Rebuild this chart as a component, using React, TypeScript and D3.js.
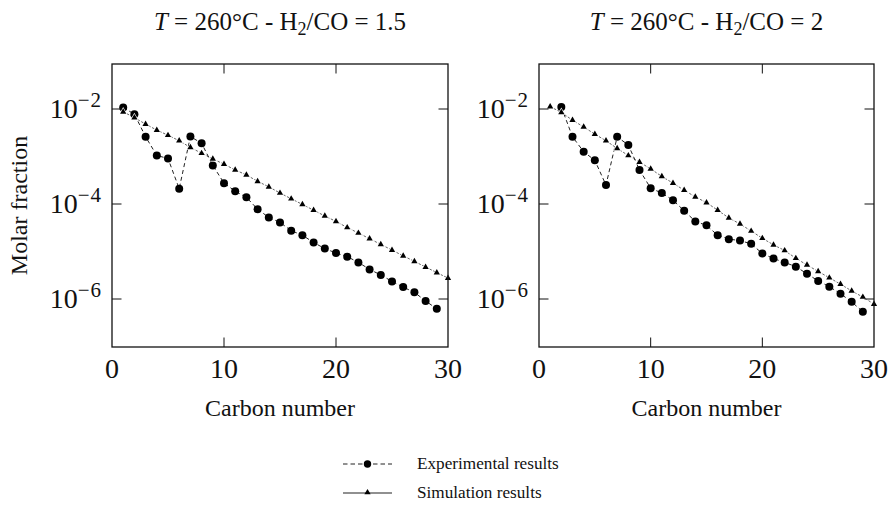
import React from "react";
import * as d3 from "d3";

// ---- data ----
const carbonExpLeft = d3.range(1, 30);
const expLeft = [
  1.07e-2, 7.8e-3, 2.6e-3, 1.05e-3, 9.1e-4, 2.1e-4, 2.63e-3, 1.9e-3, 6.5e-4, 2.75e-4,
  1.86e-4, 1.38e-4, 7.8e-5, 5.2e-5, 4.1e-5, 2.75e-5, 2.2e-5, 1.55e-5, 1.15e-5, 9.3e-6,
  7.8e-6, 5.9e-6, 4.2e-6, 3.2e-6, 2.35e-6, 1.78e-6, 1.38e-6, 9.1e-7, 6.2e-7,
];
const carbonSimLeft = d3.range(1, 31);
const simLeft = [
  8.7e-3, 6.6e-3, 4.8e-3, 3.6e-3, 2.8e-3, 2.15e-3, 1.55e-3, 1.17e-3, 8.9e-4, 6.9e-4,
  5.2e-4, 4.1e-4, 3.0e-4, 2.3e-4, 1.7e-4, 1.29e-4, 9.8e-5, 7.4e-5, 5.6e-5, 4.3e-5,
  3.2e-5, 2.45e-5, 1.86e-5, 1.41e-5, 1.07e-5, 8.1e-6, 6.2e-6, 4.7e-6, 3.6e-6, 2.75e-6,
];
const carbonExpRight = d3.range(2, 30);
const expRight = [
  1.1e-2, 2.6e-3, 1.26e-3, 8.3e-4, 2.5e-4, 2.6e-3, 1.74e-3, 5.2e-4, 2.15e-4, 1.7e-4,
  1.2e-4, 7.2e-5, 4.3e-5, 3.55e-5, 2.2e-5, 1.82e-5, 1.7e-5, 1.45e-5, 9.1e-6, 7.1e-6,
  5.9e-6, 4.8e-6, 3.4e-6, 2.4e-6, 1.82e-6, 1.29e-6, 8.7e-7, 5.4e-7,
];
const carbonSimRight = d3.range(1, 31);
const simRight = [
  1.12e-2, 8.5e-3, 5.8e-3, 4.2e-3, 2.95e-3, 2.15e-3, 1.48e-3, 1.05e-3, 7.6e-4, 5.5e-4,
  3.8e-4, 2.75e-4, 1.95e-4, 1.41e-4, 1.07e-4, 7.4e-5, 5.1e-5, 3.8e-5, 2.7e-5, 1.9e-5,
  1.38e-5, 1.05e-5, 7.2e-6, 5.2e-6, 3.8e-6, 2.8e-6, 2.05e-6, 1.48e-6, 1.1e-6, 7.8e-7,
];
const xTicks = [0, 10, 20, 30];
const yTickExponents = [-2, -4, -6];
const titleRatios = ["1.5", "2"];
const legendLabels = ["Experimental results", "Simulation results"];
const xLabel = "Carbon number";
const yLabel = "Molar fraction";

const FONT = "'Liberation Serif', 'Times New Roman', serif";
const INK = "#111";

type PanelProps = {
  left: number;
  right: number;
  ratio: string;
  showYLabel: boolean;
  cExp: number[];
  vExp: number[];
  cSim: number[];
  vSim: number[];
};

function Panel({ left, right, ratio, showYLabel, cExp, vExp, cSim, vSim }: PanelProps) {
  const top = 64;
  const bottom = 347;
  const x = d3.scaleLinear().domain([0, 30]).range([left, right]);
  const y = d3
    .scaleLog()
    .domain([Math.pow(10, -7.0105), Math.pow(10, -1.0526)])
    .range([bottom, top]);
  const expPts = cExp.map((c, i) => [x(c), y(vExp[i])] as [number, number]);
  const simPts = cSim.map((c, i) => [x(c), y(vSim[i])] as [number, number]);
  const line = d3.line();
  const tri = d3.symbol(d3.symbolTriangle, 17)();
  const tickLen = 9.5;
  const cx = (left + right) / 2;
  return (
    <g>
      {/* title */}
      <text x={cx} y={30} textAnchor="middle" fontFamily={FONT} fontSize={25} fill={INK}>
        <tspan fontStyle="italic">T</tspan>
        <tspan>{" = 260°C - H"}</tspan>
        <tspan fontSize={18} dy={5}>2</tspan>
        <tspan dy={-5}>{"/CO = " + ratio}</tspan>
      </text>
      {/* series */}
      <path d={line(simPts) || ""} fill="none" stroke="#555" strokeWidth={0.9} strokeDasharray="2.5 1.6" />
      <path d={line(expPts) || ""} fill="none" stroke="#222" strokeWidth={1} strokeDasharray="4 3" />
      {expPts.map((p, i) => (
        <circle key={"e" + i} cx={p[0]} cy={p[1]} r={4} fill="#000" />
      ))}
      {simPts.map((p, i) => (
        <path
          key={"s" + i}
          d={tri || ""}
          transform={`translate(${p[0]},${p[1]})`}
          fill="#000"
          stroke="#fff"
          strokeWidth={1.2}
          paintOrder="stroke"
        />
      ))}
      {/* frame */}
      <rect x={left} y={top} width={right - left} height={bottom - top} fill="none" stroke="#111" strokeWidth={1.3} />
      {/* x ticks */}
      {xTicks.map((t) => (
        <g key={"xt" + t}>
          {t > 0 && t < 30 && (
            <>
              <line x1={x(t)} x2={x(t)} y1={bottom} y2={bottom - tickLen} stroke="#111" strokeWidth={1} />
              <line x1={x(t)} x2={x(t)} y1={top} y2={top + tickLen} stroke="#111" strokeWidth={1} />
            </>
          )}
          <text x={x(t)} y={378} textAnchor="middle" fontFamily={FONT} fontSize={28} fill={INK}>
            {t}
          </text>
        </g>
      ))}
      {/* y ticks */}
      {yTickExponents.map((e) => (
        <g key={"yt" + e}>
          <line x1={left} x2={left + tickLen} y1={y(Math.pow(10, e))} y2={y(Math.pow(10, e))} stroke="#111" strokeWidth={1} />
          <line x1={right} x2={right - tickLen} y1={y(Math.pow(10, e))} y2={y(Math.pow(10, e))} stroke="#111" strokeWidth={1} />
          <text x={left - 11} y={y(Math.pow(10, e)) + 9} textAnchor="end" fontFamily={FONT} fontSize={28} fill={INK}>
            <tspan>10</tspan>
            <tspan fontSize={21} dy={-11}>{"\u2212"}</tspan>
            <tspan fontSize={21} dx={1}>{String(Math.abs(e))}</tspan>
          </text>
        </g>
      ))}
      {/* axis labels */}
      <text x={cx} y={416} textAnchor="middle" fontFamily={FONT} fontSize={24} fill={INK}>
        {xLabel}
      </text>
      {showYLabel && (
        <text
          transform={`translate(27,${(top + bottom) / 2})`}
          textAnchor="middle"
          fontFamily={FONT}
          fontSize={24}
          fill={INK}
        >
          <tspan transform="rotate(-90)"></tspan>
        </text>
      )}
      {showYLabel && (
        <text
          transform={`translate(27,${(top + bottom) / 2}) rotate(-90)`}
          textAnchor="middle"
          fontFamily={FONT}
          fontSize={24}
          fill={INK}
        >
          {yLabel}
        </text>
      )}
    </g>
  );
}

export default function App() {
  const tri = d3.symbol(d3.symbolTriangle, 17)();
  return (
    <svg
      width={890}
      height={507}
      viewBox="0 0 890 507"
      style={{ position: "absolute", left: 0, top: 0, background: "#fff" }}
    >
      <rect width={890} height={507} fill="#fff" />
      <Panel left={112} right={448} ratio={titleRatios[0]} showYLabel={true} cExp={carbonExpLeft} vExp={expLeft} cSim={carbonSimLeft} vSim={simLeft} />
      <Panel left={539} right={874} ratio={titleRatios[1]} showYLabel={false} cExp={carbonExpRight} vExp={expRight} cSim={carbonSimRight} vSim={simRight} />
      {/* legend */}
      <g>
        <line x1={343} x2={392} y1={464} y2={464} stroke="#222" strokeWidth={1} strokeDasharray="4.5 3" />
        <circle cx={367.5} cy={464} r={3.7} fill="#000" />
        <text x={417} y={469} fontFamily={FONT} fontSize={17.2} fill={INK}>
          {legendLabels[0]}
        </text>
        <line x1={343} x2={392} y1={493} y2={493} stroke="#222" strokeWidth={1.2} />
        <path d={tri || ""} transform="translate(367.5,492.5)" fill="#000" />
        <text x={417} y={498} fontFamily={FONT} fontSize={17.2} fill={INK}>
          {legendLabels[1]}
        </text>
      </g>
    </svg>
  );
}
